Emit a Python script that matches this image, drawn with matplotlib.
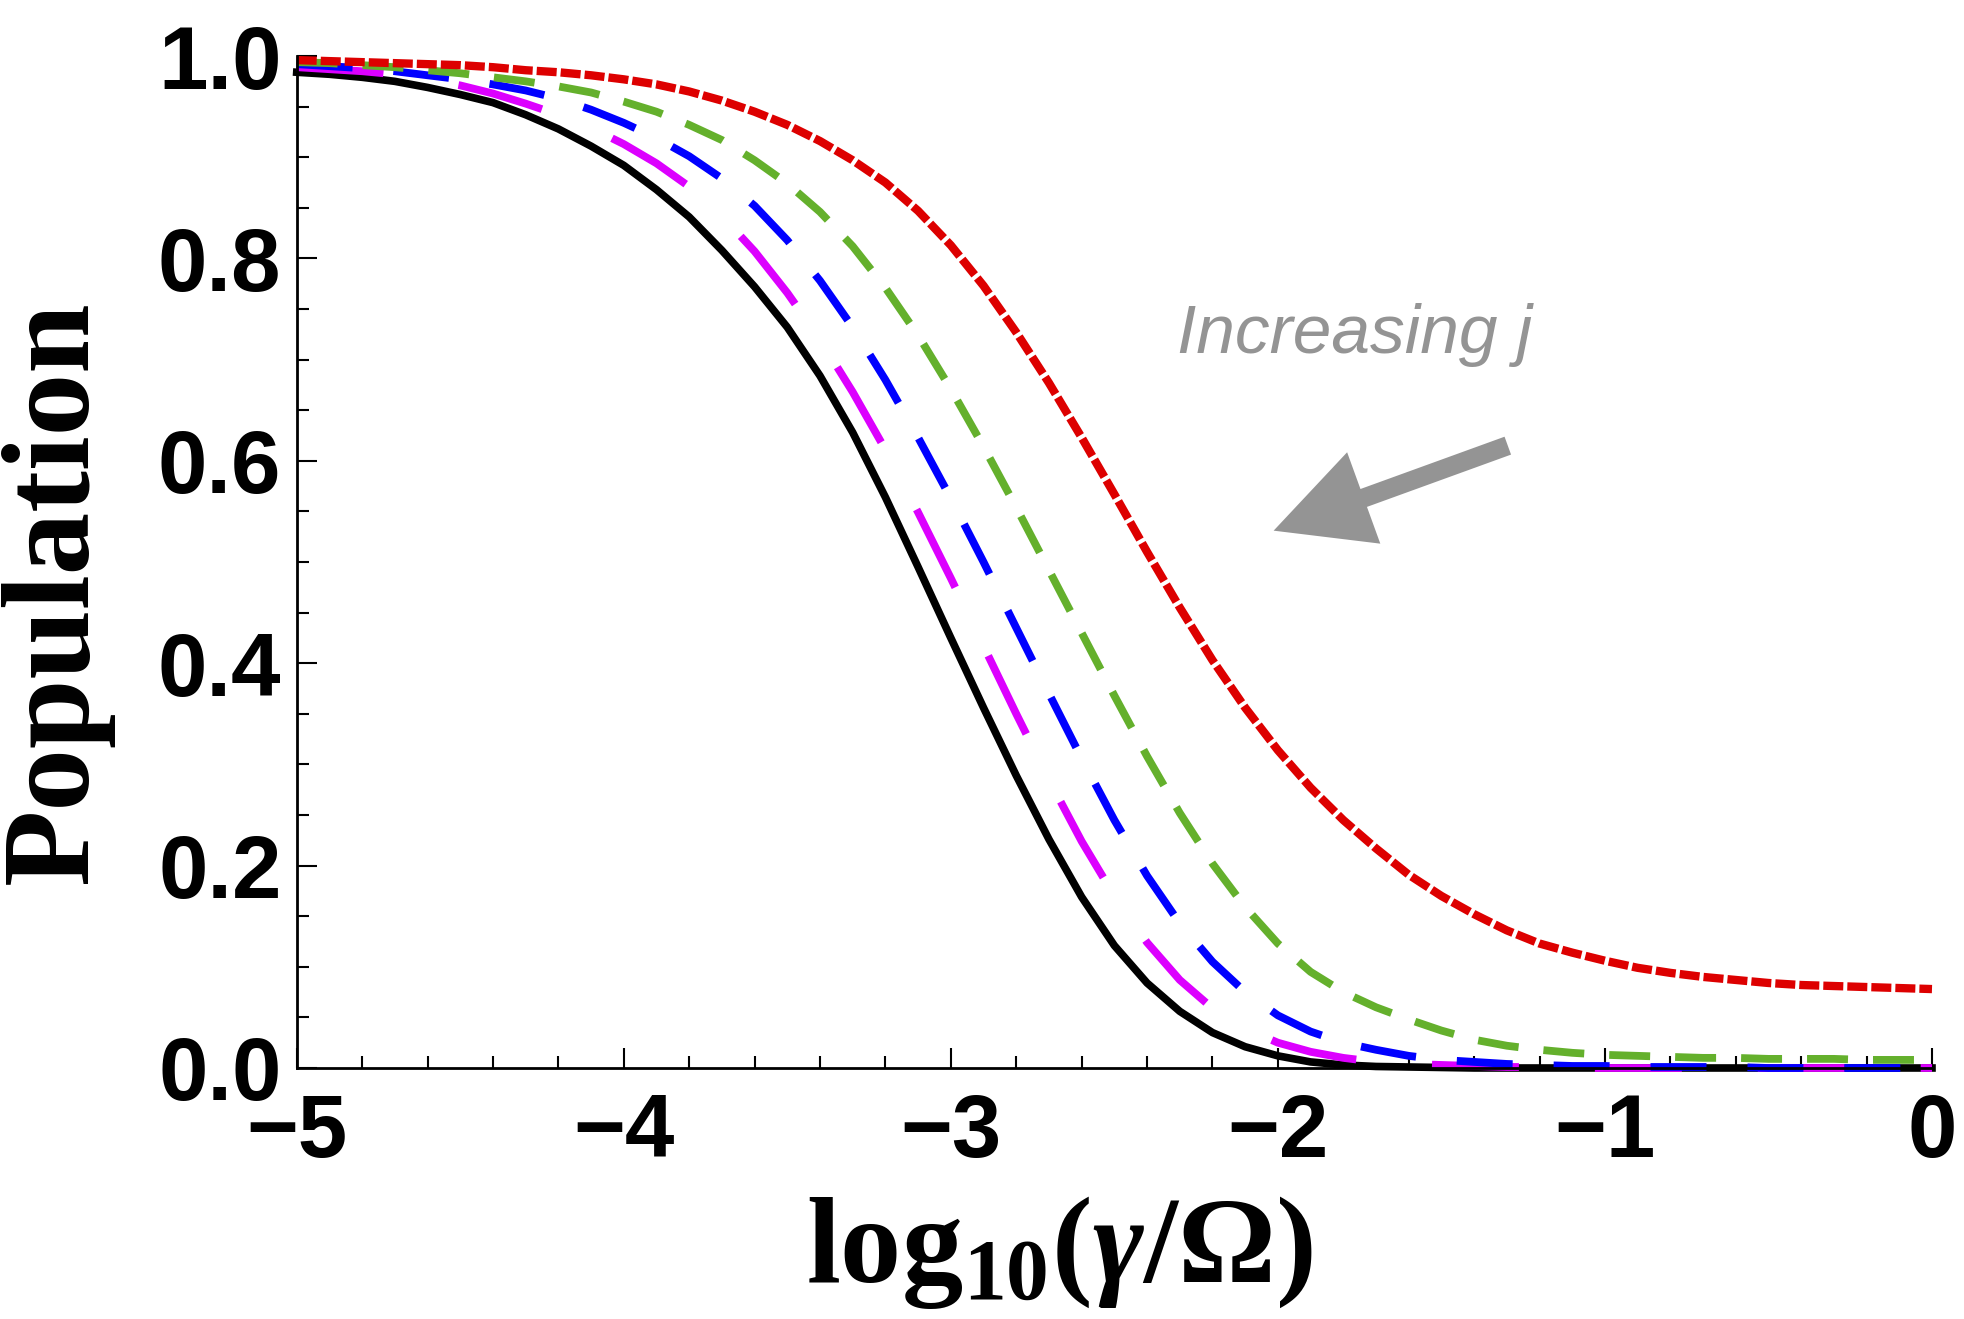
import matplotlib
matplotlib.use("Agg")
import matplotlib.pyplot as plt
from matplotlib.ticker import MultipleLocator

# Fonts: sans bold for ticks, serif bold for axis labels
plt.rcParams["font.family"] = ["Liberation Sans", "DejaVu Sans"]
plt.rcParams["mathtext.fontset"] = "custom"
plt.rcParams["mathtext.rm"] = "Liberation Serif:bold"
plt.rcParams["mathtext.it"] = "Liberation Serif:italic:bold"
plt.rcParams["mathtext.bf"] = "Liberation Serif:bold"
plt.rcParams["lines.scale_dashes"] = False

# x positions of the readings, log10(gamma/Omega)
log_ratio = [
    -5.0, -4.9, -4.8, -4.7, -4.6, -4.5, -4.4, -4.3, -4.2, -4.1,
    -4.0, -3.9, -3.8, -3.7, -3.6, -3.5, -3.4, -3.3, -3.2, -3.1,
    -3.0, -2.9, -2.8, -2.7, -2.6, -2.5, -2.4, -2.3, -2.2, -2.1,
    -2.0, -1.9, -1.8, -1.7, -1.6, -1.5, -1.4, -1.3, -1.2, -1.1,
    -1.0, -0.9, -0.8, -0.7, -0.6, -0.5, -0.4, -0.3, -0.2, -0.1, 0.0,
]

# population values
pop_red = [
    0.996, 0.995, 0.994, 0.993, 0.992, 0.991, 0.989, 0.986, 0.984, 0.981,
    0.977, 0.972, 0.965, 0.956, 0.945, 0.932, 0.916, 0.897, 0.875, 0.847,
    0.813, 0.773, 0.727, 0.677, 0.623, 0.567, 0.510, 0.455, 0.403, 0.356,
    0.314, 0.277, 0.245, 0.217, 0.191, 0.170, 0.152, 0.136, 0.123, 0.114,
    0.106, 0.099, 0.094, 0.090, 0.087, 0.084, 0.082, 0.081, 0.080, 0.079, 0.078,
]
pop_green = [
    0.994, 0.993, 0.991, 0.989, 0.986, 0.983, 0.979, 0.975, 0.970, 0.964,
    0.955, 0.945, 0.932, 0.917, 0.897, 0.874, 0.846, 0.812, 0.771, 0.724,
    0.671, 0.614, 0.554, 0.492, 0.430, 0.368, 0.308, 0.252, 0.202, 0.159,
    0.123, 0.095, 0.075, 0.060, 0.048, 0.037, 0.028, 0.022, 0.018, 0.015,
    0.013, 0.012, 0.011, 0.010, 0.010, 0.009, 0.009, 0.009, 0.008, 0.008, 0.008,
]
pop_blue = [
    0.992, 0.990, 0.988, 0.985, 0.981, 0.977, 0.972, 0.966, 0.958, 0.947,
    0.934, 0.919, 0.901, 0.879, 0.852, 0.818, 0.778, 0.732, 0.680, 0.623,
    0.563, 0.500, 0.435, 0.370, 0.306, 0.245, 0.190, 0.143, 0.105, 0.075,
    0.052, 0.036, 0.025, 0.018, 0.012, 0.008, 0.006, 0.004, 0.003, 0.002,
    0.002, 0.001, 0.001, 0.001, 0.001, 0.0, 0.0, 0.0, 0.0, 0.0, 0.0,
]
pop_magenta = [
    0.989, 0.987, 0.985, 0.982, 0.977, 0.971, 0.963, 0.953, 0.942, 0.929,
    0.913, 0.894, 0.871, 0.842, 0.807, 0.766, 0.720, 0.668, 0.611, 0.549,
    0.484, 0.417, 0.350, 0.285, 0.224, 0.170, 0.124, 0.087, 0.059, 0.039,
    0.025, 0.016, 0.010, 0.006, 0.004, 0.003, 0.002, 0.001, 0.001, 0.0,
    0.0, 0.0, 0.0, 0.0, 0.0, 0.0, 0.0, 0.0, 0.0, 0.0, 0.0,
]
pop_black = [
    0.984, 0.982, 0.979, 0.975, 0.969, 0.962, 0.954, 0.942, 0.928, 0.911,
    0.892, 0.868, 0.841, 0.808, 0.772, 0.732, 0.684, 0.628, 0.564, 0.495,
    0.425, 0.356, 0.289, 0.226, 0.169, 0.121, 0.084, 0.056, 0.035, 0.021,
    0.012, 0.006, 0.003, 0.0015, 0.001, 0.0005, 0.0, 0.0, 0.0, 0.0,
    0.0, 0.0, 0.0, 0.0, 0.0, 0.0, 0.0, 0.0, 0.0, 0.0, 0.0,
]

x_ticks = [-5, -4, -3, -2, -1, 0]
x_tick_labels = ["\u22125", "\u22124", "\u22123", "\u22122", "\u22121", "0"]
y_ticks = [0.0, 0.2, 0.4, 0.6, 0.8, 1.0]
y_tick_labels = ["0.0", "0.2", "0.4", "0.6", "0.8", "1.0"]

GRAY = "#949494"

fig = plt.figure(figsize=(19.65, 13.19), dpi=100)
ax = fig.add_axes([0.151, 0.1903, 0.8322, 0.7672])

# Draw from bottom curve to top curve
curves = [
    (pop_black, "black", "-", 5.5),
    (pop_magenta, "#DC00FF", (0, (62.6, 54.7)), 5.6),
    (pop_blue, "#0000FF", (0, (40.3, 29.5)), 5.6),
    (pop_green, "#64B02C", (0, (29.5, 18.0)), 5.6),
    (pop_red, "#DD0000", (0, (14.4, 2.9)), 6.0),
]
for values, color, style, width in curves:
    ax.plot(log_ratio, values, color=color, linestyle=style, linewidth=width,
            dash_capstyle="butt", solid_joinstyle="round", clip_on=False)

ax.set_xlim(-5, 0)
ax.set_ylim(0, 1)

# Only the left and bottom frame lines
ax.spines["top"].set_visible(False)
ax.spines["right"].set_visible(False)
ax.spines["left"].set_linewidth(2)
ax.spines["bottom"].set_linewidth(2)

ax.set_xticks(x_ticks)
ax.set_xticklabels(x_tick_labels)
ax.set_yticks(y_ticks)
ax.set_yticklabels(y_tick_labels)
ax.xaxis.set_minor_locator(MultipleLocator(0.2))
ax.yaxis.set_minor_locator(MultipleLocator(0.05))
ax.tick_params(which="both", direction="in", width=1.5)
ax.tick_params(which="major", length=14.4, labelsize=64)
ax.tick_params(which="minor", length=8.6)
ax.tick_params(axis="x", pad=17)
ax.tick_params(axis="y", pad=11)
for lbl in ax.get_xticklabels() + ax.get_yticklabels():
    lbl.set_fontweight("bold")

ax.set_xlabel(r"$\mathrm{log}_{\mathrm{10}}(\gamma/\Omega)$", fontsize=88)
ax.xaxis.set_label_coords(0.466, -0.125)
ax.set_ylabel("Population", fontsize=90, fontfamily="Liberation Serif",
              fontweight="bold")
ax.yaxis.set_label_coords(-0.112, 0.47)

# Annotation arrow and text
ax.annotate("", xy=(-2.013, 0.531), xytext=(-1.297, 0.615),
            arrowprops=dict(arrowstyle="simple,head_length=69,head_width=70,tail_width=13.7",
                            fc=GRAY, ec="none", shrinkA=0, shrinkB=0, mutation_scale=1))
ax.text(-2.309, 0.707, "Increasing j", fontsize=50, style="italic",
        color=GRAY, ha="left", va="baseline")

fig.savefig("out.png", dpi=100)
